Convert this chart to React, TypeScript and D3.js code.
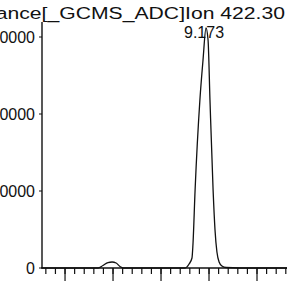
import { useEffect, useRef } from "react";
import * as d3 from "d3";

// retention time (min) and abundance
const times = [
  8.50, 8.60, 8.7375, 8.758, 8.779, 8.796, 8.813, 8.829, 8.842, 9.00, 9.10,
  9.117, 9.129, 9.133, 9.142, 9.162, 9.175, 9.1875, 9.196, 9.204, 9.217,
  9.225, 9.233, 9.242, 9.254, 9.271, 9.383, 9.53,
];
const abundance = [
  0, 0, 0, 330, 710, 780, 650, 200, 0, 0, 0,
  520, 1300, 2990, 10130, 21820, 27000, 31170, 29610, 21820, 10130,
  4940, 2080, 780, 260, 65, 0, 0,
];

const yTicks = [0, 10000, 20000, 30000];
const majorTicks = [8.6, 8.8, 9.0, 9.2, 9.4];
const minorTicks = d3.range(8.52, 9.53, 0.04);
const xTickLabels = ["8.60", "8.80", "9.00", "9.20", "9.40"];

const TITLE = "Abundance[_GCMS_ADC]Ion 422.30";
const PEAK_LABEL = "9.173";
const PEAK_TIME = 9.1875;

export default function App() {
  const ref = useRef<SVGSVGElement>(null);

  useEffect(() => {
    if (!ref.current) return;
    const width = 287;
    const height = 286;
    const margin = { top: 22, left: 42, bottom: 18 };
    const baseY = height - margin.bottom; // 268

    const svg = d3.select(ref.current);
    svg.selectAll("*").remove();
    svg.attr("width", width).attr("height", height);

    const x = d3.scaleLinear().domain([8.504, 9.525]).range([margin.left, width]);
    const y = d3.scaleLinear().domain([0, 30000]).range([baseY, 37]);

    const font = "Arial, 'Liberation Sans', sans-serif";

    // axes
    svg
      .append("line")
      .attr("x1", margin.left)
      .attr("x2", margin.left)
      .attr("y1", margin.top)
      .attr("y2", baseY)
      .attr("stroke", "#111")
      .attr("stroke-width", 1.4);
    svg
      .append("line")
      .attr("x1", margin.left)
      .attr("x2", width)
      .attr("y1", baseY)
      .attr("y2", baseY)
      .attr("stroke", "#111")
      .attr("stroke-width", 1.4);

    // y ticks + labels (cropped on the left like the scan)
    svg
      .append("g")
      .attr("stroke", "#111")
      .selectAll("line")
      .data(yTicks)
      .join("line")
      .attr("x1", margin.left - 3)
      .attr("x2", margin.left)
      .attr("y1", (d) => y(d))
      .attr("y2", (d) => y(d));

    svg
      .append("g")
      .selectAll("text")
      .data(yTicks)
      .join("text")
      .attr("x", 35)
      .attr("y", (d) => y(d))
      .attr("dy", "0.36em")
      .attr("text-anchor", "end")
      .attr("font-family", font)
      .attr("font-size", 16)
      .attr("fill", "#111")
      .text((d) => `${d}`);

    // x ticks
    svg
      .append("g")
      .attr("stroke", "#111")
      .attr("stroke-width", 1.2)
      .selectAll("line")
      .data(minorTicks)
      .join("line")
      .attr("x1", (d) => x(d))
      .attr("x2", (d) => x(d))
      .attr("y1", baseY)
      .attr("y2", baseY + 6);

    svg
      .append("g")
      .attr("stroke", "#111")
      .attr("stroke-width", 1.2)
      .selectAll("line")
      .data(majorTicks)
      .join("line")
      .attr("x1", (d) => x(d))
      .attr("x2", (d) => x(d))
      .attr("y1", baseY)
      .attr("y2", baseY + 13);

    // tick labels sit below the crop, only their tops show faintly
    svg
      .append("g")
      .selectAll("text")
      .data(majorTicks)
      .join("text")
      .attr("x", (d) => x(d))
      .attr("y", 299)
      .attr("text-anchor", "middle")
      .attr("font-family", font)
      .attr("font-size", 16)
      .attr("fill", "#bbb")
      .text((_, i) => xTickLabels[i]);

    // trace
    const pts = times.map((t, i) => [t, abundance[i]] as [number, number]);
    const line = d3
      .line<[number, number]>()
      .x((d) => x(d[0]))
      .y((d) => y(d[1]))
      .curve(d3.curveMonotoneX);

    svg
      .append("path")
      .datum(pts)
      .attr("d", line)
      .attr("fill", "none")
      .attr("stroke", "#111")
      .attr("stroke-width", 1.3);

    // title
    svg
      .append("text")
      .attr("transform", `translate(285,19) scale(1.245,1)`)
      .attr("text-anchor", "end")
      .attr("font-family", font)
      .attr("font-size", 17)
      .attr("fill", "#111")
      .text(TITLE);

    // peak label
    svg
      .append("text")
      .attr("x", x(PEAK_TIME) - 2)
      .attr("y", 38)
      .attr("text-anchor", "middle")
      .attr("font-family", font)
      .attr("font-size", 16)
      .attr("fill", "#111")
      .text(PEAK_LABEL);
  }, []);

  return (
    <div style={{ position: "fixed", left: 0, top: 0, background: "#fff" }}>
      <svg ref={ref} style={{ display: "block" }} />
    </div>
  );
}
